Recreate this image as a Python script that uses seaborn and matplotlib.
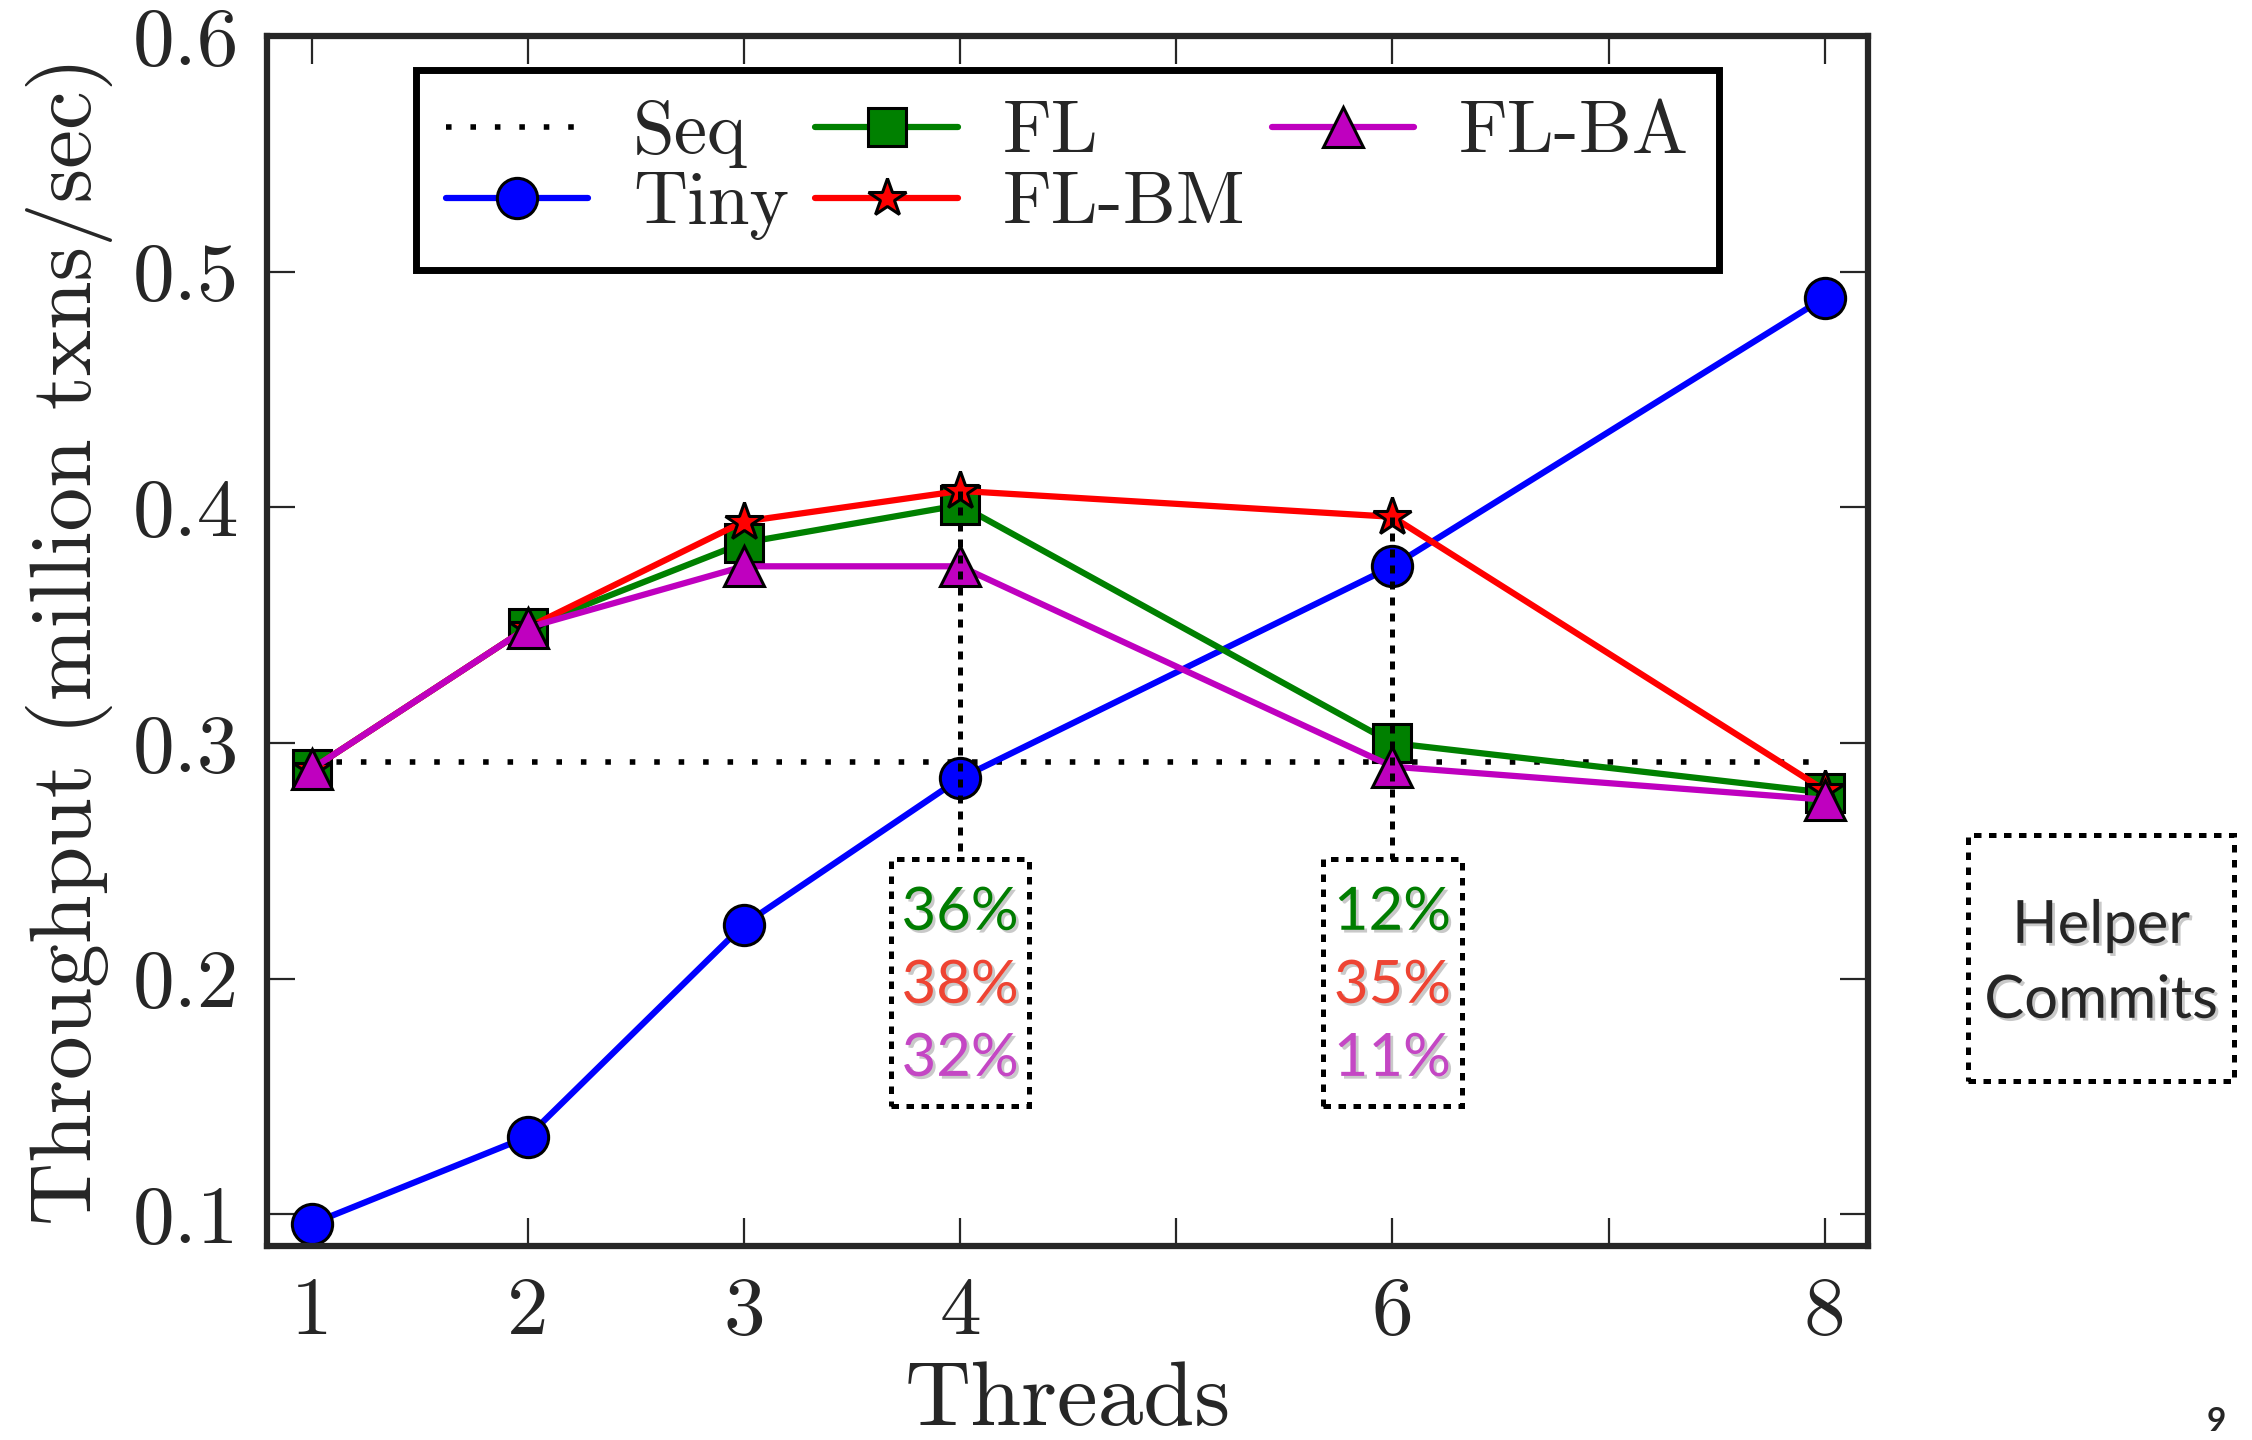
import matplotlib
matplotlib.use("Agg")
import matplotlib.pyplot as plt
import matplotlib.patheffects as pe
from matplotlib.patches import Rectangle
import pandas as pd
import seaborn as sns

# ---------------- data ----------------
threads = [1, 2, 3, 4, 6, 8]
seq = [0.292, 0.292, 0.292, 0.292, 0.292, 0.292]
tiny = [0.096, 0.133, 0.223, 0.285, 0.375, 0.489]
fl = [0.289, 0.349, 0.385, 0.401, 0.300, 0.279]
fl_bm = [0.289, 0.349, 0.394, 0.407, 0.396, 0.280]
fl_ba = [0.289, 0.349, 0.375, 0.375, 0.290, 0.276]

series_names = ["Seq", "Tiny", "FL", "FL-BM", "FL-BA"]
x_ticks = [1, 2, 3, 4, 5, 6, 7, 8]
x_ticklabels = ["1", "2", "3", "4", "", "6", "", "8"]
y_ticks = [0.1, 0.2, 0.3, 0.4, 0.5, 0.6]
y_ticklabels = ["0.1", "0.2", "0.3", "0.4", "0.5", "0.6"]

gain_threads = [4, 6]
gain_fl = ["36%", "12%"]
gain_bm = ["38%", "35%"]
gain_ba = ["32%", "11%"]

# ---------------- style ----------------
sns.set_style("ticks")
plt.rcParams["font.family"] = ["cmr10", "DejaVu Serif"]
plt.rcParams["mathtext.fontset"] = "cm"
plt.rcParams["axes.formatter.use_mathtext"] = True

fig = plt.figure(figsize=(22.52, 14.4), dpi=100)
ax = fig.add_axes([0.1186, 0.1347, 0.7109, 0.8403])

df = pd.DataFrame({
    "Threads": threads * 5,
    "value": seq + tiny + fl + fl_bm + fl_ba,
    "series": sum([[n] * len(threads) for n in series_names], []),
})

styles = {
    "Seq": dict(color="black", marker=None, ls=(0, (1, 3.4)), lw=4.0),
    "Tiny": dict(color="#0000ff", marker="o", ls="-", lw=4.5),
    "FL": dict(color="#008000", marker="s", ls="-", lw=4.5),
    "FL-BM": dict(color="#ff0000", marker="*", ls="-", lw=4.5),
    "FL-BA": dict(color="#bf00bf", marker="^", ls="-", lw=4.5),
}
msize = {"o": 29, "s": 27, "*": 29, "^": 29}

for name in series_names:
    st = styles[name]
    sub = df[df["series"] == name]
    kw = dict(x="Threads", y="value", data=sub, ax=ax, color=st["color"],
              linestyle=st["ls"], linewidth=st["lw"], label=name,
              estimator=None, sort=False)
    if st["marker"]:
        kw.update(marker=st["marker"], markersize=msize[st["marker"]],
                  markeredgecolor="black", markeredgewidth=2.2)
    sns.lineplot(**kw)

# vertical dashed connectors and dashed percentage boxes
box_top, box_bot, box_halfw = 0.251, 0.146, 0.32
fl_map = dict(zip(threads, fl))
bm_map = dict(zip(threads, fl_bm))
shadow = [pe.SimplePatchShadow(offset=(2, -2), shadow_rgbFace="0.4", alpha=0.35), pe.Normal()]
for i, t in enumerate(gain_threads):
    top = max(fl_map[t], bm_map[t])
    ax.plot([t, t], [top, box_top], color="black", ls=(0, (1.6, 1.6)), lw=3.6, zorder=5)
    ax.add_patch(Rectangle((t - box_halfw, box_bot), 2 * box_halfw, box_top - box_bot,
                           fill=False, ec="black", lw=3.6, ls=(0, (1.5, 1.5)), zorder=1))
    for txt, yy, c in [(gain_fl[i], 0.228, "#007d00"), (gain_bm[i], 0.197, "#ee4433"),
                       (gain_ba[i], 0.166, "#c447c4")]:
        ax.text(t, yy, txt, color=c, ha="center", va="center", fontsize=43,
                family=["Lato", "DejaVu Sans"], path_effects=shadow)

# axes formatting
ax.set_xlim(0.794, 8.2)
ax.set_ylim(0.0866, 0.6)
ax.set_xticks(x_ticks)
ax.set_xticklabels(x_ticklabels)
ax.set_yticks(y_ticks)
ax.set_yticklabels(y_ticklabels)
ax.tick_params(direction="in", length=20, width=1.6, labelsize=60, top=True, right=True)
ax.tick_params(axis="x", pad=22)
ax.tick_params(axis="y", pad=20)
for s in ax.spines.values():
    s.set_linewidth(4.5)
    s.set_visible(True)
ax.set_xlabel("Threads", fontsize=66, labelpad=8)
ax.set_ylabel("Throughput (million txns/sec)", fontsize=63, labelpad=14)

handles, labels = ax.get_legend_handles_labels()
leg = ax.legend(handles, labels, ncol=3, loc="upper center",
                bbox_to_anchor=(0.5, 0.972), fontsize=54, frameon=True,
                fancybox=False, edgecolor="black", handlelength=1.9,
                handletextpad=0.6, columnspacing=0.35, labelspacing=0.05,
                borderpad=0.4, borderaxespad=0)
leg.get_frame().set_linewidth(5)
leg.get_frame().set_facecolor("white")
leg.get_frame().set_alpha(1)

# "Helper Commits" box outside the axes
fig.patches.append(Rectangle((0.874, 0.249), 0.118, 0.171, transform=fig.transFigure,
                             fill=False, ec="black", lw=3.6, ls=(0, (1.5, 1.5))))
fig.text(0.933, 0.357, "Helper", ha="center", va="center", fontsize=43,
         family=["Lato", "DejaVu Sans"], path_effects=shadow)
fig.text(0.933, 0.305, "Commits", ha="center", va="center", fontsize=43,
         family=["Lato", "DejaVu Sans"], path_effects=shadow)
fig.text(0.984, 0.003, "9", ha="center", va="bottom", fontsize=24,
         family=["Lato", "DejaVu Sans"], fontweight="bold")

fig.savefig("out.png", dpi=100)
